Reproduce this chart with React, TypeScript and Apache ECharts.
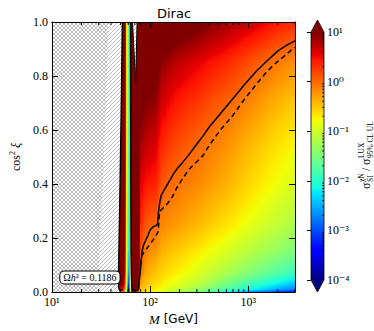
import React, { useEffect, useRef } from "react";
import * as echarts from "echarts";

// ---------------- data ----------------
// rows of cos^2(xi) at which the colour field was read
const cos2Rows = [0, 0.01, 0.03, 0.07, 0.15, 0.25, 0.4, 0.55, 0.7, 0.85, 1.0];
// dark-matter masses (GeV) at which the colour field was read
const massColumns = [
  45, 53.3, 55.8, 57.8, 59.2, 60.6, 62.0, 63.3, 64.6, 72, 76.8,
  80, 90, 100, 115, 130, 150, 180, 220, 270, 330, 400, 500, 620, 770, 950,
  1200, 1500, 1900, 2400, 3000,
];
// log10( sigma_SI / sigma_LUX ) per mass column, one value per cos2Rows entry
const log10RatioByMass = [
  [0.1, 0.6, 1.2, 1.5, 1.5, 1.5, 1.5, 1.5, 1.5, 1.5, 1.5],
  [0.1, 0.5, 1.0, 1.3, 1.5, 1.5, 1.5, 1.5, 1.5, 1.5, 1.5],
  [-0.5, -0.2, 0.2, 0.5, 0.7, 0.8, 0.9, 0.95, 1.0, 1.0, 1.0],
  [-1.6, -1.4, -1.2, -1.0, -0.9, -0.8, -0.75, -0.7, -0.7, -0.7, -0.7],
  [-3.2, -2.8, -2.4, -2.0, -1.6, -1.4, -1.2, -1.1, -1.05, -1.0, -1.0],
  [-3.6, -3.3, -3.0, -2.6, -2.2, -2.0, -1.9, -1.85, -1.8, -1.8, -1.8],
  [-2.8, -2.6, -2.4, -2.3, -2.2, -2.2, -2.2, -2.2, -2.2, -2.2, -2.2],
  [-1.0, -0.9, -0.8, -0.6, -0.4, -0.3, -0.2, -0.1, 0.0, 0.0, 0.0],
  [0.8, 1.2, 1.4, 1.5, 1.5, 1.5, 1.5, 1.5, 1.5, 1.5, 1.5],
  [0.8, 1.3, 1.5, 1.5, 1.5, 1.5, 1.5, 1.5, 1.5, 1.5, 1.5],
  [0.0, 0.6, 1.0, 1.2, 1.3, 1.4, 1.5, 1.5, 1.5, 1.5, 1.5],
  [-0.55, -0.45, -0.3, -0.02, 0.12, 0.35, 0.6, 0.85, 1.1, 1.4, 1.9],
  [-0.65, -0.55, -0.45, -0.35, -0.12, 0.1, 0.45, 0.72, 0.98, 1.25, 1.75],
  [-0.75, -0.65, -0.55, -0.42, -0.2, 0.03, 0.42, 0.68, 0.95, 1.2, 1.7],
  [-0.85, -0.72, -0.62, -0.48, -0.25, 0.0, 0.38, 0.62, 0.9, 1.15, 1.65],
  [-0.95, -0.8, -0.7, -0.56, -0.38, -0.15, 0.12, 0.38, 0.65, 0.95, 1.45],
  [-1.05, -0.88, -0.78, -0.63, -0.45, -0.2, 0.02, 0.28, 0.55, 0.85, 1.38],
  [-1.15, -0.97, -0.86, -0.7, -0.52, -0.26, -0.04, 0.18, 0.44, 0.75, 1.3],
  [-1.3, -1.08, -0.95, -0.78, -0.58, -0.32, -0.09, 0.1, 0.36, 0.68, 1.22],
  [-1.45, -1.2, -1.05, -0.86, -0.65, -0.38, -0.14, 0.04, 0.29, 0.61, 1.15],
  [-1.6, -1.32, -1.15, -0.95, -0.72, -0.44, -0.19, -0.01, 0.23, 0.55, 1.08],
  [-1.8, -1.48, -1.28, -1.04, -0.8, -0.52, -0.26, -0.08, 0.15, 0.47, 1.0],
  [-2.0, -1.62, -1.42, -1.13, -0.87, -0.59, -0.33, -0.15, 0.08, 0.4, 0.93],
  [-2.2, -1.78, -1.55, -1.23, -0.95, -0.66, -0.4, -0.22, 0.02, 0.33, 0.86],
  [-2.4, -1.93, -1.68, -1.33, -1.03, -0.74, -0.48, -0.3, -0.06, 0.25, 0.78],
  [-2.6, -2.08, -1.8, -1.43, -1.11, -0.82, -0.56, -0.38, -0.14, 0.17, 0.7],
  [-2.75, -2.22, -1.93, -1.53, -1.19, -0.9, -0.64, -0.46, -0.22, 0.08, 0.62],
  [-2.9, -2.35, -2.05, -1.63, -1.27, -0.98, -0.72, -0.54, -0.3, 0.0, 0.54],
  [-3.05, -2.5, -2.18, -1.73, -1.35, -1.06, -0.8, -0.62, -0.38, -0.08, 0.45],
  [-3.2, -2.62, -2.3, -1.83, -1.43, -1.13, -0.87, -0.69, -0.45, -0.15, 0.38],
  [-3.35, -2.75, -2.42, -1.92, -1.5, -1.2, -0.93, -0.76, -0.52, -0.22, 0.32],
];

// solid contour (sigma = sigma_LUX), [M, cos2xi]
const solidContour = [
  [63.3, 1], [63.5, 0.7], [63.8, 0.4], [64.2, 0.15], [64.8, 0.05], [65.4, 0.018],
  [66.5, 0.008], [68.5, 0.005], [72, 0.005], [74.5, 0.007], [76, 0.012], [76.7, 0.02],
  [77.5, 0.04], [79, 0.065], [80.5, 0.1], [82.7, 0.149], [85.5, 0.172], [89, 0.186],
  [94, 0.205], [100, 0.23], [108, 0.242], [116, 0.247], [119, 0.252], [120.5, 0.27],
  [122, 0.297], [126, 0.335], [130, 0.358], [138, 0.375], [146, 0.39], [160, 0.415],
  [175, 0.44], [190, 0.458], [215, 0.48], [247, 0.507], [300, 0.548], [350, 0.58],
  [403, 0.612], [520, 0.66], [681, 0.711], [900, 0.765], [1197, 0.816], [1600, 0.86],
  [2028, 0.894], [2500, 0.915], [3000, 0.93],
];
// dashed contour
const dashedContour = [
  [80, 0.1], [83, 0.137], [88, 0.15], [93, 0.162], [100, 0.178], [107.6, 0.193],
  [115, 0.21], [121, 0.223], [123, 0.26], [125, 0.297], [137, 0.313], [151, 0.328],
  [169, 0.353], [190, 0.39], [215, 0.42], [247, 0.452], [290, 0.478], [346, 0.505],
  [403, 0.544], [520, 0.6], [681, 0.649], [900, 0.71], [1197, 0.767], [1500, 0.81],
  [1811, 0.841], [2300, 0.872], [2740, 0.896], [3000, 0.905],
];
// left edge of the coloured region
const leftBoundary = [
  [52.2, 1], [51.2, 0.75], [50, 0.5], [49, 0.3], [47.6, 0.05], [47.8, 0.015],
  [49.5, 0.007], [53, 0.009],
];
// single-hatched region (//)
const hatchedRegion = [
  [10, 0], [48, 0], [47.8, 0.015], [47.6, 0.05], [49, 0.3], [50, 0.5], [51.2, 0.75],
  [52.2, 1], [10, 1],
];
// cross-hatched part (adds \\)
const crossHatchedRegion = [
  [10, 0], [29, 0], [31, 0.2], [33.5, 0.45], [35.5, 0.7], [37.5, 1], [10, 1],
];
// white notch at the top near the resonance
const notchRegion = [[66.3, 1], [71.3, 0.774], [73.8, 1]];
// Omega h^2 label position [M, cos2xi]
const omegaLabelAt = [24.4, 0.054];
const omegaLabel = "0.1186";

const xMinorTicks = [20, 30, 40, 50, 60, 70, 80, 90, 200, 300, 400, 500, 600, 700, 800, 900, 2000, 3000];
const colorbarDecades = [-4, -3, -2, -1, 0];
const colorbarMultipliers = [2, 3, 4, 5, 6, 7, 8, 9];
const colorMinLog = -4;
const colorMaxLog = 1;

// ---------------- styles and helpers ----------------
const SERIF = '"Liberation Serif", "DejaVu Serif", serif';
const SANS = '"DejaVu Sans", "Liberation Sans", sans-serif';

const JET_R = [[0, 0], [0.35, 0], [0.66, 1], [0.89, 1], [1, 0.5]];
const JET_G = [[0, 0], [0.125, 0], [0.375, 1], [0.64, 1], [0.91, 0], [1, 0]];
const JET_B = [[0, 0.5], [0.11, 1], [0.34, 1], [0.65, 0], [1, 0]];
const JET_BREAKS = [0, 0.11, 0.125, 0.34, 0.35, 0.375, 0.64, 0.65, 0.66, 0.89, 0.91, 1];

function seg(pts: number[][], t: number) {
  if (t <= pts[0][0]) return pts[0][1];
  for (let k = 0; k < pts.length - 1; k++) {
    const [t0, v0] = pts[k];
    const [t1, v1] = pts[k + 1];
    if (t <= t1) return v0 + ((v1 - v0) * (t - t0)) / (t1 - t0);
  }
  return pts[pts.length - 1][1];
}
function jetT(t: number) {
  const tt = Math.max(0, Math.min(1, t));
  const r = Math.round(seg(JET_R, tt) * 255);
  const g = Math.round(seg(JET_G, tt) * 255);
  const b = Math.round(seg(JET_B, tt) * 255);
  return `rgb(${r},${g},${b})`;
}
const toT = (v: number) => (v - colorMinLog) / (colorMaxLog - colorMinLog);
const jetV = (v: number) => jetT(toT(v));

// linear gradient that paints the plane through three (pixel, value) points
function planeFill(p: number[][], v: number[]) {
  const x0 = p[0][0], y0 = p[0][1];
  const d1x = p[1][0] - x0, d1y = p[1][1] - y0;
  const d2x = p[2][0] - x0, d2y = p[2][1] - y0;
  const dv1 = v[1] - v[0], dv2 = v[2] - v[0];
  const det = d1x * d2y - d1y * d2x;
  const vmin = Math.min(v[0], v[1], v[2]);
  const vmax = Math.max(v[0], v[1], v[2]);
  if (Math.abs(det) < 1e-9 || vmax - vmin < 1e-6) return jetV((vmin + vmax) / 2);
  const a = (dv1 * d2y - d1y * dv2) / det;
  const b = (d1x * dv2 - dv1 * d2x) / det;
  const g2 = a * a + b * b;
  if (g2 < 1e-12) return jetV(v[0]);
  const sx = x0 + (a * (vmin - v[0])) / g2, sy = y0 + (b * (vmin - v[0])) / g2;
  const ex = x0 + (a * (vmax - v[0])) / g2, ey = y0 + (b * (vmax - v[0])) / g2;
  const stops = [{ offset: 0, color: jetV(vmin) }];
  for (const t of JET_BREAKS) {
    const vb = colorMinLog + t * (colorMaxLog - colorMinLog);
    if (vb > vmin && vb < vmax) stops.push({ offset: (vb - vmin) / (vmax - vmin), color: jetV(vb) });
  }
  stops.push({ offset: 1, color: jetV(vmax) });
  return new echarts.graphic.LinearGradient(sx, sy, ex, ey, stops, true);
}

function hatchLines(pts: number[][], dir: number, spacing: number, style: any) {
  const f = (q: number[]) => q[0] + dir * q[1];
  const along = (q: number[]) => q[0] - dir * q[1];
  let cmin = Infinity, cmax = -Infinity;
  for (const q of pts) { const c = f(q); cmin = Math.min(cmin, c); cmax = Math.max(cmax, c); }
  const out: any[] = [];
  for (let c = Math.ceil(cmin / spacing) * spacing; c <= cmax; c += spacing) {
    const hits: number[][] = [];
    for (let k = 0; k < pts.length; k++) {
      const p = pts[k], q = pts[(k + 1) % pts.length];
      const fp = f(p) - c, fq = f(q) - c;
      if ((fp < 0) !== (fq < 0)) {
        const t = fp / (fp - fq);
        hits.push([p[0] + t * (q[0] - p[0]), p[1] + t * (q[1] - p[1])]);
      }
    }
    hits.sort((m, n) => along(m) - along(n));
    for (let h = 0; h + 1 < hits.length; h += 2) {
      out.push({ type: "line", shape: { x1: hits[h][0], y1: hits[h][1], x2: hits[h + 1][0], y2: hits[h + 1][1] }, style });
    }
  }
  return out;
}

const SUP: Record<string, string> = {
  "0": "⁰", "1": "¹", "2": "²", "3": "³", "4": "⁴", "5": "⁵", "6": "⁶", "7": "⁷", "8": "⁸", "9": "⁹", "-": "⁻",
};
const powerLabel = (v: number) =>
  "10" + String(Math.round(Math.log10(v))).split("").map((c) => SUP[c] || c).join("");

function buildOption() {
  // one item per cell: [M0, M1, y0, y1, v(M0,y0), v(M1,y0), v(M1,y1), v(M0,y1)]
  const cells: number[][] = [];
  for (let i = 0; i < massColumns.length - 1; i++) {
    for (let j = 0; j < cos2Rows.length - 1; j++) {
      cells.push([
        massColumns[i], massColumns[i + 1], cos2Rows[j], cos2Rows[j + 1],
        log10RatioByMass[i][j], log10RatioByMass[i + 1][j],
        log10RatioByMass[i + 1][j + 1], log10RatioByMass[i][j + 1],
      ]);
    }
  }

  const hatchStyle = { stroke: "#777", lineWidth: 0.5, fill: null };
  const hatchDefs = [
    { poly: hatchedRegion, dirs: [1], fill: "#fff", stroke: null },
    { poly: crossHatchedRegion, dirs: [-1], fill: null, stroke: null },
    { poly: notchRegion, dirs: [1], fill: "#fff", stroke: "#000" },
  ];

  const axisLineStyle = { color: "#000", width: 1 };
  const tickStyle = { color: "#000", width: 1 };

  return {
    animation: false,
    backgroundColor: "#fff",
    title: {
      text: "Dirac",
      left: 169,
      top: 2,
      textAlign: "center",
      textStyle: { fontFamily: SANS, fontSize: 13, fontWeight: "normal", color: "#000" },
    },
    grid: [
      { left: 43, top: 22, width: 252, height: 270 },
      { left: 311, top: 32, width: 13, height: 248 },
    ],
    xAxis: [
      {
        gridIndex: 0, type: "log", logBase: 10, min: 10, max: 3000, position: "bottom", z: 10,
        axisLine: { onZero: false, lineStyle: axisLineStyle },
        axisTick: { inside: true, length: 6, lineStyle: tickStyle },
        axisLabel: {
          formatter: powerLabel, showMaxLabel: false, fontFamily: SERIF, fontSize: 12, color: "#000", margin: 4,
        },
        splitLine: { show: false },
        name: "{i|M}{s| [GeV]}",
        nameLocation: "middle",
        nameGap: 17,
        nameTextStyle: {
          rich: {
            i: { fontFamily: SERIF, fontStyle: "italic", fontSize: 13, color: "#000" },
            s: { fontFamily: SANS, fontSize: 12, color: "#000" },
          },
        },
      },
      {
        gridIndex: 0, type: "log", logBase: 10, min: 10, max: 3000, position: "top", z: 10,
        axisLine: { onZero: false, lineStyle: axisLineStyle },
        axisTick: { inside: true, length: 6, lineStyle: tickStyle },
        axisLabel: { show: false },
        splitLine: { show: false },
      },
      { gridIndex: 1, type: "value", min: 0, max: 1, show: false },
    ],
    yAxis: [
      {
        gridIndex: 0, type: "value", min: 0, max: 1, interval: 0.2, position: "left", z: 10,
        axisLine: { show: true, onZero: false, lineStyle: axisLineStyle },
        axisTick: { inside: true, length: 6, lineStyle: tickStyle },
        axisLabel: {
          formatter: (v: number) => v.toFixed(1), fontFamily: SERIF, fontSize: 12, color: "#000", margin: 4,
        },
        splitLine: { show: false },
        name: "{n|cos}{e|2}{n| }{i|ξ}",
        nameLocation: "middle",
        nameGap: 24,
        nameRotate: 90,
        nameTextStyle: {
          rich: {
            n: { fontFamily: SERIF, fontSize: 12, color: "#000", lineHeight: 16 },
            e: { fontFamily: SERIF, fontSize: 8, color: "#000", lineHeight: 9, verticalAlign: "top" },
            i: { fontFamily: SERIF, fontStyle: "italic", fontSize: 12, color: "#000", lineHeight: 16 },
          },
        },
      },
      {
        gridIndex: 0, type: "value", min: 0, max: 1, interval: 0.2, position: "right", z: 10,
        axisLine: { show: true, onZero: false, lineStyle: axisLineStyle },
        axisTick: { inside: true, length: 6, lineStyle: tickStyle },
        axisLabel: { show: false },
        splitLine: { show: false },
      },
      {
        gridIndex: 1, type: "log", logBase: 10, min: 1e-4, max: 10, position: "right", z: 10,
        axisLine: { show: false },
        axisTick: { inside: true, length: 4, lineStyle: tickStyle },
        axisLabel: { formatter: powerLabel, fontFamily: SERIF, fontSize: 12, color: "#000", margin: 3 },
        splitLine: { show: false },
      },
    ],
    series: [
      {
        type: "custom", name: "field", xAxisIndex: 0, yAxisIndex: 0, z: 1, silent: true, clip: true,
        data: cells,
        renderItem: (params: any, api: any) => {
          const m0 = api.value(0), m1 = api.value(1), c0 = api.value(2), c1 = api.value(3);
          const A = api.coord([m0, c0]);
          const B = api.coord([m1, c0]);
          const C = api.coord([m1, c1]);
          const D = api.coord([m0, c1]);
          const vA = api.value(4), vB = api.value(5), vC = api.value(6), vD = api.value(7);
          const pad = 0.7;
          // the later cells (right and above) paint over the padding of this one
          const under = [A, [B[0] + pad, B[1]], [C[0] + pad, C[1] - pad], [D[0], D[1] - pad]];
          const upper = [A, [C[0], C[1] - pad], [D[0], D[1] - pad]];
          return {
            type: "group",
            children: [
              { type: "polygon", shape: { points: under }, style: { fill: planeFill([A, B, C], [vA, vB, vC]), stroke: null } },
              { type: "polygon", shape: { points: upper }, style: { fill: planeFill([A, C, D], [vA, vC, vD]), stroke: null } },
            ],
          };
        },
      },
      {
        type: "custom", name: "hatch", xAxisIndex: 0, yAxisIndex: 0, z: 2, silent: true, clip: true,
        data: [[0], [1], [2]],
        renderItem: (params: any, api: any) => {
          const def = hatchDefs[params.dataIndex];
          const pts = def.poly.map((p) => api.coord(p));
          const children: any[] = [];
          if (def.fill) children.push({ type: "polygon", shape: { points: pts }, style: { fill: def.fill, stroke: null } });
          for (const d of def.dirs) children.push(...hatchLines(pts, d, 4, hatchStyle));
          if (def.stroke) children.push({ type: "polygon", shape: { points: pts }, style: { fill: null, stroke: def.stroke, lineWidth: 1 } });
          return { type: "group", children };
        },
      },
      {
        type: "line", name: "left", xAxisIndex: 0, yAxisIndex: 0, z: 3, data: leftBoundary, showSymbol: false,
        silent: true, lineStyle: { color: "#000", width: 1.4 },
      },
      {
        type: "line", name: "solid", xAxisIndex: 0, yAxisIndex: 0, z: 3, data: solidContour, showSymbol: false,
        silent: true, lineStyle: { color: "#000", width: 1.5 },
      },
      {
        type: "line", name: "dashed", xAxisIndex: 0, yAxisIndex: 0, z: 3, data: dashedContour, showSymbol: false,
        silent: true, lineStyle: { color: "#000", width: 1.5, type: [5, 3.5] },
      },
      {
        type: "custom", name: "label", xAxisIndex: 0, yAxisIndex: 0, z: 4, silent: true, clip: false,
        data: [omegaLabelAt],
        renderItem: (params: any, api: any) => {
          const p = api.coord([api.value(0), api.value(1)]);
          return {
            type: "text", x: p[0], y: p[1],
            style: {
              text: `{n|Ω}{i|h}{n|² = ${omegaLabel}}`,
              rich: {
                n: { fontFamily: SERIF, fontSize: 10, fill: "#000" },
                i: { fontFamily: SERIF, fontStyle: "italic", fontSize: 10, fill: "#000" },
              },
              align: "center", verticalAlign: "middle",
              backgroundColor: "#fff", borderColor: "#000", borderWidth: 1, borderRadius: 4,
              padding: [1, 3, 1, 3],
            },
          };
        },
      },
      {
        type: "custom", name: "minorTicks", xAxisIndex: 0, yAxisIndex: 0, z: 11, silent: true, clip: false,
        data: xMinorTicks.map((m) => [m]),
        renderItem: (params: any, api: any) => {
          const b = api.coord([api.value(0), 0]);
          const t = api.coord([api.value(0), 1]);
          return {
            type: "group",
            children: [
              { type: "line", shape: { x1: b[0], y1: b[1], x2: b[0], y2: b[1] - 3 }, style: { stroke: "#000", lineWidth: 1 } },
              { type: "line", shape: { x1: t[0], y1: t[1], x2: t[0], y2: t[1] + 3 }, style: { stroke: "#000", lineWidth: 1 } },
            ],
          };
        },
      },
      {
        type: "custom", name: "colorbar", xAxisIndex: 2, yAxisIndex: 2, z: 5, silent: true, clip: false,
        data: [[0]],
        renderItem: (params: any, api: any) => {
          const tl = api.coord([0, Math.pow(10, colorMaxLog)]);
          const br = api.coord([1, Math.pow(10, colorMinLog)]);
          const xl = tl[0], xr = br[0], yt = tl[1], yb = br[1];
          const mid = (xl + xr) / 2;
          const tri = 12;
          const stops = JET_BREAKS.slice().reverse().map((t) => ({ offset: 1 - t, color: jetT(t) }));
          const children: any[] = [
            {
              type: "rect", shape: { x: xl, y: yt, width: xr - xl, height: yb - yt },
              style: { fill: new echarts.graphic.LinearGradient(0, 0, 0, 1, stops) },
            },
            { type: "polygon", shape: { points: [[xl, yt + 0.5], [xr, yt + 0.5], [mid, yt - tri]] }, style: { fill: jetT(1) } },
            { type: "polygon", shape: { points: [[xl, yb - 0.5], [xr, yb - 0.5], [mid, yb + tri]] }, style: { fill: jetT(0) } },
            {
              type: "polygon",
              shape: { points: [[xl, yt], [mid, yt - tri], [xr, yt], [xr, yb], [mid, yb + tri], [xl, yb]] },
              style: { fill: null, stroke: "#000", lineWidth: 0.8 },
            },
          ];
          for (const d of colorbarDecades) {
            for (const m of colorbarMultipliers) {
              const p = api.coord([0, m * Math.pow(10, d)]);
              children.push({ type: "line", shape: { x1: xr, y1: p[1], x2: xr - 2, y2: p[1] }, style: { stroke: "#000", lineWidth: 0.8 } });
            }
          }
          const cy = (yt + yb) / 2;
          const big = { fontFamily: SERIF, fontSize: 12, fill: "#000" };
          const small = { fontFamily: SERIF, fontSize: 7.5, fill: "#000" };
          const tx = (text: string, x: number, y: number, st: any) => ({
            type: "text", x, y, style: { ...st, text, align: "left", verticalAlign: "middle" },
          });
          children.push({
            type: "group", x: xr + 42, y: cy, rotation: Math.PI / 2,
            children: [
              tx("σ", -33, 0, big),
              tx("χN", -26, -4.5, small),
              tx("SI", -26, 4, small),
              tx("/", -15, 0, big),
              tx("σ", -9, 0, big),
              tx("LUX", -2, -4.5, small),
              tx("95% CL UL", -2, 4, small),
            ],
          });
          return { type: "group", children };
        },
      },
    ],
  };
}

export default function App() {
  const ref = useRef<HTMLDivElement>(null);
  useEffect(() => {
    const chart = echarts.init(ref.current as HTMLDivElement, undefined, { renderer: "svg" });
    chart.setOption(buildOption() as any);
    return () => chart.dispose();
  }, []);
  return (
    <div
      ref={ref}
      style={{ position: "absolute", left: 0, top: 0, width: 374, height: 331, background: "#fff" }}
    />
  );
}
